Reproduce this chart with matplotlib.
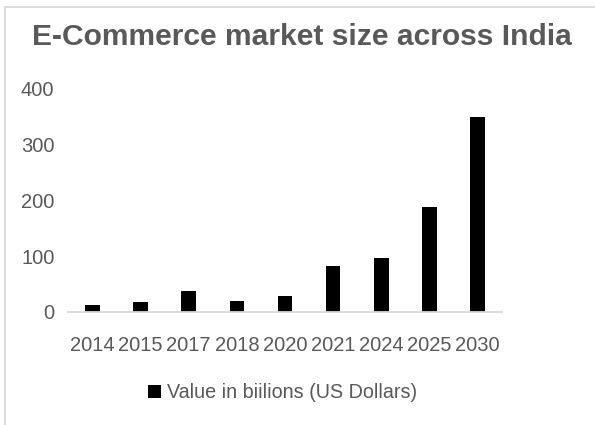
import matplotlib
matplotlib.use("Agg")
import matplotlib.pyplot as plt
from matplotlib.lines import Line2D

plt.rcParams['font.family'] = ['Liberation Sans', 'DejaVu Sans']

years = ['2014', '2015', '2017', '2018', '2020', '2021', '2024', '2025', '2030']
values = [12, 18.5, 37.5, 20, 28, 83, 97, 188, 349]
series_label = 'Value in biilions (US Dollars)'

text_col = '#595959'
line_col = '#D9D9D9'

fig = plt.figure(figsize=(5.95, 4.25), dpi=100)
ax = fig.add_axes([0.1148, 0.2659, 0.7284, 0.5264])

ax.bar(range(len(years)), values, width=0.30, color='black', label=series_label)

ax.set_xlim(-0.5, len(years) - 0.5)
ax.set_ylim(0, 400)
ax.set_yticks([0, 100, 200, 300, 400])
ax.set_xticks(range(len(years)))
ax.set_xticklabels(years)

for s in ['top', 'right', 'left']:
    ax.spines[s].set_visible(False)
ax.spines['bottom'].set_color(line_col)
ax.spines['bottom'].set_linewidth(1.3)

ax.tick_params(axis='x', length=0, pad=17, labelsize=14.5, labelcolor=text_col)
ax.tick_params(axis='y', length=0, pad=10, labelsize=14.5, labelcolor=text_col)

fig.text(0.507, 1 - 36.7 / 425, 'E-Commerce market size across India',
         ha='center', va='center', fontsize=21.6, fontweight='bold', color=text_col)

leg = fig.legend(loc='center', bbox_to_anchor=(0.4745, 1 - 393 / 425), frameon=False,
                 fontsize=14.2, handlelength=0.65, handleheight=0.65, handletextpad=0.3,
                 labelcolor=text_col)

# chart-area border (top and left edges)
fig.add_artist(Line2D([5 / 595, 5 / 595], [0, 1 - 7 / 425], color=line_col, lw=1.3,
                      transform=fig.transFigure))
fig.add_artist(Line2D([5 / 595, 1], [1 - 7 / 425, 1 - 7 / 425], color=line_col, lw=1.3,
                      transform=fig.transFigure))

fig.savefig('out.png', dpi=100)
